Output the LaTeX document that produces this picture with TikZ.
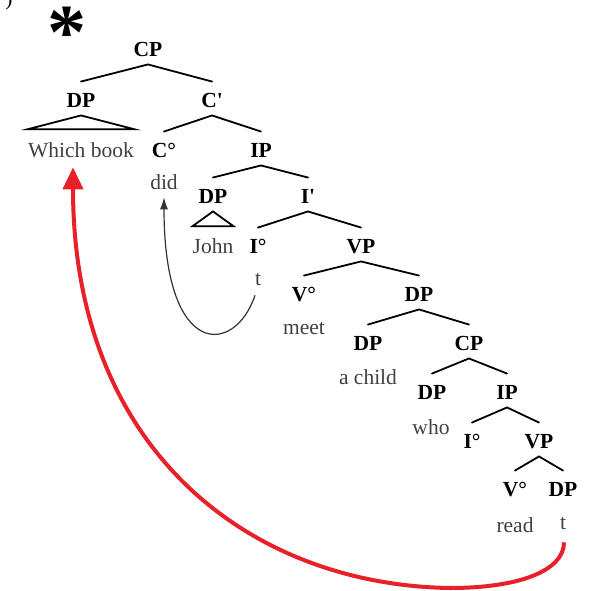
\documentclass[tikz,border=0pt]{standalone}
\usepackage{fontspec}
\setmainfont{Liberation Serif}
\usetikzlibrary{arrows.meta}
\definecolor{wordgrey}{HTML}{404040}
\definecolor{movered}{HTML}{E8202A}
\definecolor{headgrey}{HTML}{333333}
% branch pair: parent #1 with daughters #2 (left) and #3 (right)
\newcommand{\treefork}[3]{%
  \draw[branch] ([yshift=11pt]#2.north) -- ([yshift=-8pt]#1.south) -- ([yshift=11pt]#3.north);}
\begin{document}
\begin{tikzpicture}[x=1pt,y=-1pt,
  cat/.style={font=\fontsize{21.5}{24}\selectfont\bfseries, inner sep=0pt,
              text height=14.5pt, text depth=0pt},
  word/.style={font=\fontsize{21.5}{24}\selectfont, text=wordgrey, inner sep=0pt},
  branch/.style={line width=1.8pt, line cap=round},
  headmove/.style={draw=headgrey, line width=1.2pt,
                   -{Latex[length=12pt,width=8pt]}},
  phrasemove/.style={draw=movered, line width=4pt,
                     -{Triangle[length=22pt,width=20pt]}}]
\useasboundingbox (0,0) rectangle (592,591);

% label of the example and the ungrammaticality mark
\node[font=\fontsize{21.5}{24}\selectfont, inner sep=0pt, anchor=base] (exlabel) at (9,6) {)};
\node[font=\fontsize{78}{80}\selectfont\bfseries, inner sep=0pt] (star) at (67,33) {*};

% categories
\node[cat] (cp0)  at (148,49)  {CP};
\node[cat] (dp1)  at (81,100)  {DP};
\node[cat] (cbar) at (212,100) {C\textquotesingle};
\node[cat] (c0)   at (164,150) {C°};
\node[cat] (ip1)  at (261,150) {IP};
\node[cat] (dp2)  at (213,196) {DP};
\node[cat] (ibar) at (308,196) {I\textquotesingle};
\node[cat] (i0)   at (258,246) {I°};
\node[cat] (vp1)  at (361,246) {VP};
\node[cat] (v0)   at (304,294) {V°};
\node[cat] (dp3)  at (419,294) {DP};
\node[cat] (dp4)  at (368,343) {DP};
\node[cat] (cp2)  at (469,343) {CP};
\node[cat] (dp5)  at (432,392) {DP};
\node[cat] (ip2)  at (507,392) {IP};
\node[cat] (i02)  at (472,441) {I°};
\node[cat] (vp2)  at (539,441) {VP};
\node[cat] (v02)  at (515,489) {V°};
\node[cat] (dp6)  at (563,489) {DP};

% words
\node[word] (wb)     at (81,150)  {Which book};
\node[word] (did)    at (164,182) {did};
\node[word] (john)   at (213,246) {John};
\node[word] (t1)     at (258,280) {t};
\node[word] (meet)   at (304,329) {meet};
\node[word] (achild) at (368,377) {a child};
\node[word] (who)    at (431,427) {who};
\node[word] (read)   at (515,525) {read};
\node[word] (t2)     at (563,524) {t};

% branches
\treefork{cp0}{dp1}{cbar}
\treefork{cbar}{c0}{ip1}
\treefork{ip1}{dp2}{ibar}
\treefork{ibar}{i0}{vp1}
\treefork{vp1}{v0}{dp3}
\treefork{dp3}{dp4}{cp2}
\treefork{cp2}{dp5}{ip2}
\treefork{ip2}{i02}{vp2}
\treefork{vp2}{v02}{dp6}

% triangles over unanalysed phrases
\draw[branch, line join=miter] ([yshift=-8pt]dp1.south) -- ([yshift=13pt]wb.north east)
  -- ([yshift=13pt]wb.north west) -- cycle;
\draw[branch, line join=miter] ([yshift=-8pt]dp2.south) -- ([yshift=12pt]john.north east)
  -- ([yshift=12pt]john.north west) -- cycle;

% head movement I -> C
\draw[headmove] ([xshift=-3pt,yshift=-9pt]t1.south) .. controls +(-20,60) and +(0,163)
  .. ([yshift=-7.5pt]did.south);

% wh-movement out of the relative clause
\coordinate (low) at (450,588);
\draw[phrasemove] ([xshift=1pt,yshift=-12pt]t2.south) .. controls +(0,28) and +(70,0) .. (low)
  .. controls +(-200,-3) and +(0,283) .. ([xshift=-8pt,yshift=-9.5pt]wb.south);
\end{tikzpicture}
\end{document}
